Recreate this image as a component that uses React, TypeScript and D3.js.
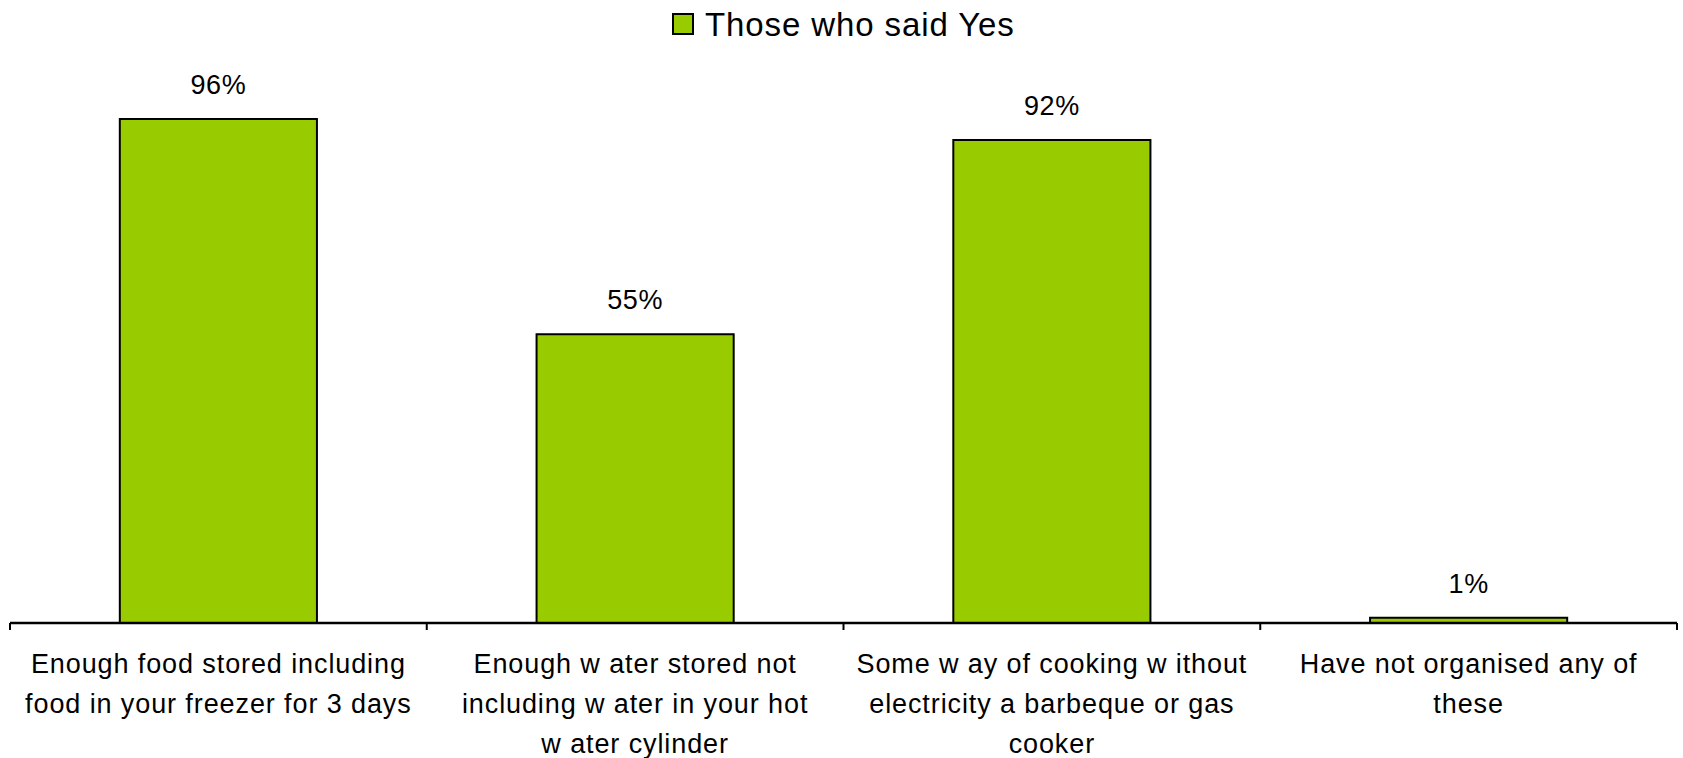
import React from "react";
import * as d3 from "d3";

const categories = [
  "Enough food stored including food in your freezer for 3 days",
  "Enough water stored not including water in your hot water cylinder",
  "Some way of cooking without electricity a barbeque or gas cooker",
  "Have not organised any of these",
];
const categoryLines = [
  ["Enough food stored including", "food in your freezer for 3 days"],
  ["Enough w ater stored not", "including w ater in your hot", "w ater cylinder"],
  ["Some w ay of cooking w ithout", "electricity a barbeque or gas", "cooker"],
  ["Have not organised any of", "these"],
];
const values = [0.96, 0.55, 0.92, 0.01];
const valueLabels = ["96%", "55%", "92%", "1%"];
const seriesName = "Those who said Yes";

const W = 1683;
const H = 758;
const FONT = "'Liberation Sans', Arial, sans-serif";
const GREEN = "#99CC00";

export default function App() {
  const x = d3.scaleBand<number>().domain(d3.range(categories.length)).range([10, 1677]).padding(0);
  const y = d3.scaleLinear().domain([0, 1]).range([623, 98]);
  const barW = x.bandwidth() * 0.473;
  const ticks = d3.range(categories.length + 1).map((i) => 10 + i * x.step());

  return (
    <div style={{ position: "absolute", left: 0, top: 0 }}>
      <svg width={W} height={H} style={{ display: "block", background: "#fff" }}>
        <g>
          <rect x={673} y={14} width={20} height={20} fill={GREEN} stroke="#000" strokeWidth={2} />
          <text x={705} y={36} fontFamily={FONT} fontSize={33} letterSpacing={0.9} fill="#000">
            {seriesName}
          </text>
        </g>
        {values.map((v, i) => {
          const cx = (x(i) as number) + x.bandwidth() / 2;
          return (
            <g key={i}>
              <rect
                x={cx - barW / 2}
                y={y(v)}
                width={barW}
                height={y(0) - y(v)}
                fill={GREEN}
                stroke="#000"
                strokeWidth={2}
              />
              <text
                x={cx}
                y={y(v) - 25}
                textAnchor="middle"
                fontFamily={FONT}
                fontSize={27}
                letterSpacing={0.5}
                fill="#000"
              >
                {valueLabels[i]}
              </text>
            </g>
          );
        })}
        <line x1={10} x2={1677} y1={y(0)} y2={y(0)} stroke="#000" strokeWidth={2.5} />
        {ticks.map((t, i) => (
          <line key={i} x1={t} x2={t} y1={y(0)} y2={y(0) + 7} stroke="#000" strokeWidth={2} />
        ))}
        {categoryLines.map((lines, i) => {
          const cx = (x(i) as number) + x.bandwidth() / 2;
          return (
            <text key={i} textAnchor="middle" fontFamily={FONT} fontSize={27} letterSpacing={0.9} fill="#000">
              {lines.map((ln, j) => (
                <tspan key={j} x={cx} y={673 + j * 40}>
                  {ln}
                </tspan>
              ))}
            </text>
          );
        })}
      </svg>
    </div>
  );
}
